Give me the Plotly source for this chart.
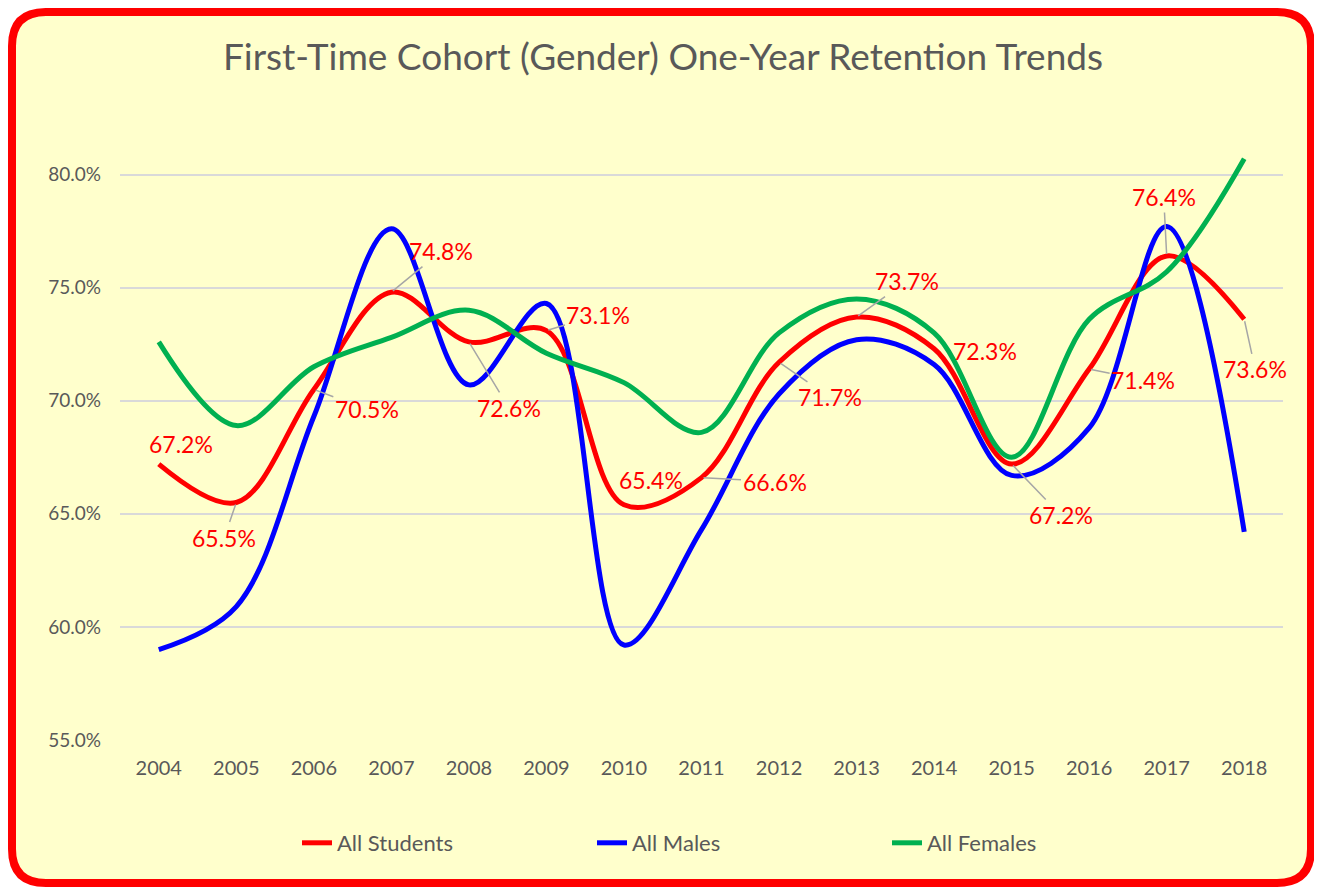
import plotly.graph_objects as go

# Data
years = list(range(2004, 2019))
all_students = [67.2, 65.5, 70.5, 74.8, 72.6, 73.1, 65.4, 66.6, 71.7, 73.7, 72.3, 67.2, 71.4, 76.4, 73.6]
all_males = [59.0, 60.9, 69.3, 77.6, 70.7, 74.3, 59.2, 64.3, 70.3, 72.7, 71.6, 66.7, 68.8, 77.7, 64.2]
all_females = [72.6, 68.9, 71.5, 72.8, 74.0, 72.1, 70.8, 68.6, 73.0, 74.5, 73.0, 67.5, 73.6, 75.7, 80.7]

# label placement for the "All Students" data labels (pixel offsets, leader line on/off)
label_offsets = [(22, -20, False), (-12, 35, True), (53, 20, True), (50, -41, True),
                 (40, 66, True), (52, -16, True), (27, -25, False), (73, 4, True),
                 (51, 35, True), (50, -36, True), (51, 2, False), (49, 51, True),
                 (54, 11, True), (-3, -59, True), (11, 50, True)]

# the page body has an 8px margin, so the figure is sized/positioned to compensate
W, H = 1314, 880
L, R, T, B = 112, 39, 110, 148
PW, PH = W - L - R, H - T - B
GREY = '#595959'


def paper(px, py):
    return (px - L) / PW, (H - B - py) / PH


def rounded_rect(x0, y0, x1, y1, r):
    pts = [("M", [(x0 + r, y0)]), ("L", [(x1 - r, y0)]), ("Q", [(x1, y0), (x1, y0 + r)]),
           ("L", [(x1, y1 - r)]), ("Q", [(x1, y1), (x1 - r, y1)]), ("L", [(x0 + r, y1)]),
           ("Q", [(x0, y1), (x0, y1 - r)]), ("L", [(x0, y0 + r)]), ("Q", [(x0, y0), (x0 + r, y0)])]
    s = ""
    for cmd, ps in pts:
        s += cmd + " " + " ".join("%.5f,%.5f" % paper(*p) for p in ps) + " "
    return s + "Z"


fig = go.Figure()
for name, vals, color in [("All Students", all_students, "#FF0000"),
                          ("All Males", all_males, "#0000FF"),
                          ("All Females", all_females, "#00B050")]:
    fig.add_trace(go.Scatter(
        x=years, y=vals, name=name, mode='lines',
        line=dict(color=color, width=5, shape='spline', smoothing=1),
        hovertemplate='%{x}: %{y:.1f}%<extra>' + name + '</extra>'
    ))

# data labels for All Students
for yr, v, (dx, dy, leader) in zip(years, all_students, label_offsets):
    common = dict(x=yr, y=v, text="%.1f%%" % v, font=dict(color='#FF0000', size=23, family='Lato'))
    if leader:
        fig.add_annotation(**common, showarrow=True, ax=dx, ay=dy, arrowhead=0,
                           arrowwidth=1.5, arrowcolor='#A6A6A6', standoff=2)
    else:
        fig.add_annotation(**common, showarrow=False, xshift=dx, yshift=-dy)

fig.update_layout(
    width=W, height=H,
    margin=dict(l=L, r=R, t=T, b=B),
    paper_bgcolor='white',
    plot_bgcolor='rgba(0,0,0,0)',
    font=dict(family='Lato', color=GREY),
    title=dict(text="First-Time Cohort (Gender) One-Year Retention Trends",
               x=655 / W, xref='container', xanchor='center', y=1 - 49 / H, yanchor='middle',
               font=dict(size=37, color=GREY, family='Lato')),
    xaxis=dict(range=[2003.5, 2018.5], tickmode='array', tickvals=years,
               showgrid=False, zeroline=False, showline=False,
               tickfont=dict(size=20, color=GREY), ticklabelstandoff=14),
    yaxis=dict(range=[55, 82.5], tick0=55, dtick=5, tickformat='.1f', ticksuffix='%',
               showgrid=True, gridcolor='#D9D9D9', gridwidth=2, zeroline=False, showline=False,
               tickfont=dict(size=19, color=GREY), ticklabelstandoff=18),
    legend=dict(orientation='h', x=(289 - L) / PW, xanchor='left', y=-103 / PH, yanchor='middle',
                font=dict(size=22, color=GREY), entrywidth=250, bgcolor='rgba(0,0,0,0)'),
    shapes=[dict(type='path', xref='paper', yref='paper', layer='below',
                 path=rounded_rect(4, 4, 1303, 875, 34),
                 fillcolor='#FFFFCC', line=dict(color='#FF0000', width=8))],
)

fig.write_html("out.html")
